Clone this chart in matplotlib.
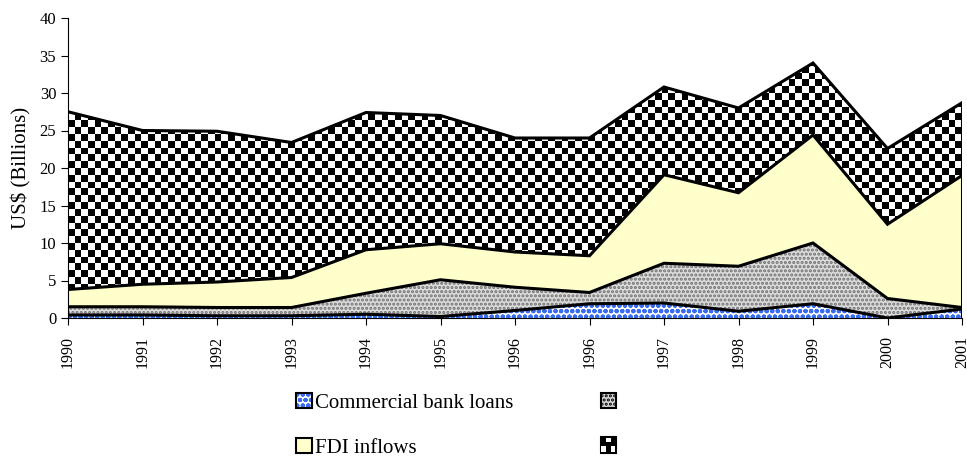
import numpy as np
import matplotlib.pyplot as plt
from matplotlib.patches import Patch, Rectangle
from matplotlib.legend_handler import HandlerBase

plt.rcParams['font.family'] = ['Liberation Serif', 'DejaVu Serif']
plt.rcParams['hatch.linewidth'] = 1.5

years = ['1990', '1991', '1992', '1993', '1994', '1995', '1996', '1996',
         '1997', '1998', '1999', '2000', '2001']
bank_loans = [0.4, 0.4, 0.3, 0.3, 0.5, 0.2, 1.0, 1.9, 2.0, 0.9, 1.9, 0.0, 1.2]
second = [1.1, 1.1, 1.1, 1.1, 2.8, 4.9, 3.1, 1.5, 5.3, 6.0, 8.1, 2.6, 0.2]
fdi = [2.3, 3.0, 3.4, 4.0, 5.8, 4.8, 4.7, 4.9, 11.8, 9.8, 14.4, 9.9, 17.6]
fourth = [23.7, 20.5, 20.1, 18.0, 18.3, 17.1, 15.2, 15.7, 11.7, 11.3, 9.6, 10.1, 9.7]
labels = ['Commercial bank loans', '', 'FDI inflows', '']


class CheckerHandler(HandlerBase):
    def create_artists(self, legend, orig, xd, yd, w, h, fs, trans):
        s = min(w, h)
        x0 = xd + (w - s) / 2
        arts = [Rectangle((x0, yd), s, s, facecolor='black', edgecolor='black',
                          lw=1.5, transform=trans)]
        c = s / 3
        arts.append(Rectangle((x0 + c, yd + 2 * c), c, c * 0.9, facecolor='white',
                              lw=0, transform=trans))
        arts.append(Rectangle((x0 + 0.15 * c, yd + 0.2 * c), c * 0.85, c, facecolor='white',
                              lw=0, transform=trans))
        arts.append(Rectangle((x0 + 2 * c, yd + 0.2 * c), c * 0.85, c, facecolor='white',
                              lw=0, transform=trans))
        return arts


fig = plt.figure(figsize=(9.67, 4.57), dpi=100)
ax = fig.add_axes([68 / 967, 139 / 457, 894 / 967, 300 / 457])

x = np.arange(len(years))
layers = [bank_loans, second, fdi, fourth]
tops = np.cumsum(np.array(layers), axis=0)
bottoms = np.vstack([np.zeros(len(years)), tops[:-1]])

# blue dotted layer
ax.fill_between(x, bottoms[0], tops[0], facecolor='white', edgecolor='#3a6cf0',
                hatch='ooo', lw=0)
# grey dotted layer
ax.fill_between(x, bottoms[1], tops[1], facecolor='#dcdcdc', edgecolor='#707070',
                hatch='....', lw=0)
# FDI inflows
ax.fill_between(x, bottoms[2], tops[2], facecolor='#ffffcc', lw=0)
# checkerboard layer
poly = ax.fill_between(x, bottoms[3], tops[3], facecolor='white', lw=0)
nx, ny = 134, 44
board = (np.add.outer(np.arange(ny), np.arange(nx)) % 2).astype(float)
img = ax.imshow(board, cmap='gray', extent=(0, 12, 0, 40), aspect='auto',
                interpolation='nearest', origin='lower', zorder=2)
img.set_clip_path(poly.get_paths()[0], transform=ax.transData)

for t in tops:
    ax.plot(x, t, color='black', lw=2.2, zorder=3, solid_joinstyle='miter')
ax.plot([12, 12], [0, tops[-1][-1]], color='black', lw=2.2, zorder=3)

ax.set_xlim(0, 12)
ax.set_ylim(0, 40)
ax.set_yticks(range(0, 41, 5))
ax.set_xticks(x)
ax.set_xticklabels(years, rotation=90, fontsize=11.5)
ax.tick_params(axis='y', labelsize=12, direction='out', length=5)
ax.tick_params(axis='x', direction='out', length=5, pad=8)
ax.spines['top'].set_visible(False)
ax.spines['right'].set_visible(False)
ax.set_ylabel('US$ (Billions)', fontsize=15, labelpad=6)

border = dict(facecolor='none', edgecolor='black', lw=1.5)
handles = [
    (Patch(facecolor='white', edgecolor='#3a6cf0', hatch='ooo', lw=0), Patch(**border)),
    Patch(facecolor='#ffffcc', edgecolor='black', lw=1.5),
    Patch(facecolor='#d8d8d8', edgecolor='black', hatch='....', lw=1.5),
    Patch(facecolor='black'),
]
leg_labels = [labels[0], labels[2], labels[1], labels[3]]
fig.legend(handles, leg_labels, ncol=2, loc='lower left',
           bbox_to_anchor=(0.2866, -0.043), frameon=False, fontsize=15,
           handlelength=0.75, handleheight=0.75, handletextpad=0.15,
           labelspacing=1.2, columnspacing=4.2,
           handler_map={handles[3]: CheckerHandler()})

fig.savefig('out.png', dpi=100)
